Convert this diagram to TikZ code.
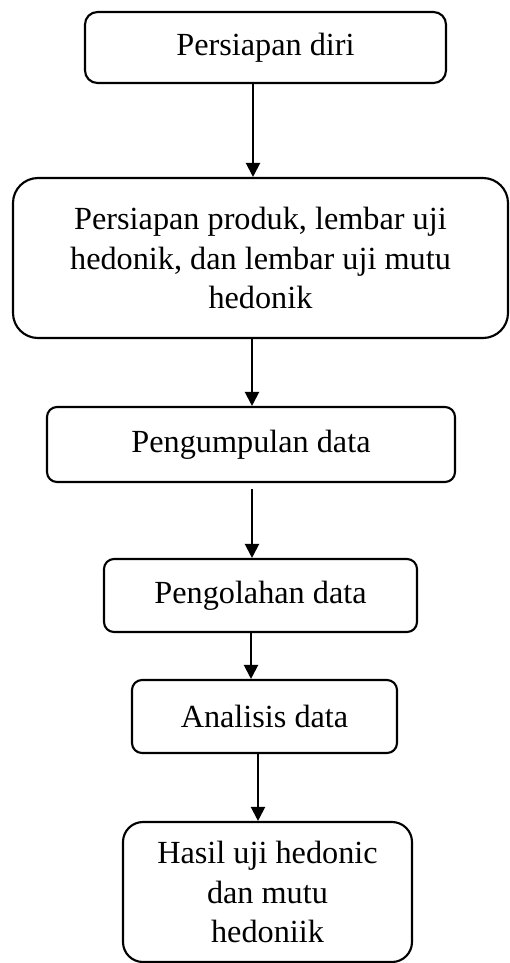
\documentclass[tikz,border=0pt]{standalone}
\usepackage{fontspec}
\setmainfont{Liberation Serif}
\usetikzlibrary{arrows.meta}

\begin{document}
\begin{tikzpicture}[x=0.4pt,y=-0.4pt,
step box/.style={rectangle, draw, line width=0.85pt, rounded corners=4pt, align=center, inner sep=0pt, font=\fontsize{12.9}{15.8}\selectfont},
arr/.style={-{Triangle[width=5.6pt,length=5.6pt]}, line width=0.85pt}]

\useasboundingbox (0,0) rectangle (509,963);

\node[step box, rounded corners=5pt, minimum width=144.4pt, minimum height=28.4pt] at (265.5,47.5) (diri) {Persiapan diri};
\node[step box, rounded corners=10pt, minimum width=198pt, minimum height=64pt] at (260.5,258) (produk) {Persiapan produk, lembar uji\\hedonik, dan lembar uji mutu\\hedonik};
\node[step box, minimum width=163.2pt, minimum height=30pt] at (251,444.5) (kumpul) {Pengumpulan data};
\node[step box, minimum width=125.2pt, minimum height=29.2pt] at (260.5,595.5) (olah) {Pengolahan data};
\node[step box, minimum width=106pt, minimum height=29.2pt] at (264.5,716.5) (analisis) {Analisis data};
\node[step box, rounded corners=8pt, minimum width=115.6pt, minimum height=56pt] at (267.5,892) (hasil) {Hasil uji hedonic\\dan mutu\\hedoniik};

\coordinate (a1) at (253,0);
\coordinate (a2) at (252,0);
\coordinate (a3) at (252,0);
\coordinate (a4) at (251,0);
\coordinate (a5) at (258,0);

\draw[arr] (diri.south -| a1) -- (produk.north -| a1);
\draw[arr] (produk.south -| a2) -- (kumpul.north -| a2);
\draw[arr, shorten <=2.4pt] (kumpul.south -| a3) -- (olah.north -| a3);
\draw[arr] (olah.south -| a4) -- (analisis.north -| a4);
\draw[arr] (analisis.south -| a5) -- (hasil.north -| a5);
\end{tikzpicture}
\end{document}
